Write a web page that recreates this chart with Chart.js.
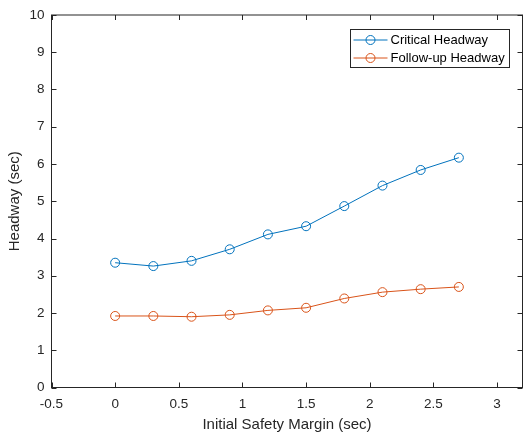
<!DOCTYPE html>
<html>
<head>
<meta charset="utf-8">
<script src="https://cdn.jsdelivr.net/npm/chart.js@4.4.1/dist/chart.umd.min.js"></script>
<style>
  html, body { margin: 0; padding: 0; background: #fff; }
</style>
</head>
<body>
<canvas id="chart" width="524" height="438"></canvas>
<script>
//DATA
const safetyMargin = [0, 0.3, 0.6, 0.9, 1.2, 1.5, 1.8, 2.1, 2.4, 2.7];
const criticalHeadway = [3.35, 3.26, 3.40, 3.71, 4.11, 4.33, 4.87, 5.42, 5.84, 6.17];
const followUpHeadway = [1.92, 1.92, 1.90, 1.95, 2.07, 2.14, 2.39, 2.56, 2.64, 2.70];
const seriesNames = ["Critical Headway", "Follow-up Headway"];
const xTicks = [-0.5, 0, 0.5, 1, 1.5, 2, 2.5, 3];
const yTicks = [0, 1, 2, 3, 4, 5, 6, 7, 8, 9, 10];

const axisColor = "#262626";
const fontFamily = "'Liberation Sans', Arial, sans-serif";

// pair x values with a series
function toPoints(ys) {
  return safetyMargin.map((x, i) => ({ x: x, y: ys[i] }));
}

function seriesStyle(color) {
  return {
    borderColor: color,
    backgroundColor: "rgba(255,255,255,0)",
    borderWidth: 1,
    pointRadius: 4.5,
    pointHoverRadius: 4.5,
    pointBorderWidth: 1,
    pointBorderColor: color,
    pointBackgroundColor: "rgba(255,255,255,0)",
    showLine: true,
    tension: 0,
  };
}

// box round the plot with inward ticks on all four sides
const boxPlugin = {
  id: "box",
  afterDraw(chart) {
    const { ctx, chartArea: a, scales } = chart;
    ctx.save();
    ctx.strokeStyle = axisColor;
    ctx.lineWidth = 1;
    ctx.strokeRect(a.left, a.top, a.right - a.left, a.bottom - a.top);
    ctx.beginPath();
    const len = 5;
    xTicks.forEach((v) => {
      const px = Math.round(scales.x.getPixelForValue(v)) + 0.5;
      ctx.moveTo(px, a.bottom);
      ctx.lineTo(px, a.bottom - len);
      ctx.moveTo(px, a.top);
      ctx.lineTo(px, a.top + len);
    });
    yTicks.forEach((v) => {
      const py = Math.round(scales.y.getPixelForValue(v)) + 0.5;
      ctx.moveTo(a.left, py);
      ctx.lineTo(a.left + len, py);
      ctx.moveTo(a.right, py);
      ctx.lineTo(a.right - len, py);
    });
    ctx.stroke();
    ctx.restore();
  },
};

// legend inside the top right corner
const legendPlugin = {
  id: "insideLegend",
  afterDraw(chart) {
    const { ctx } = chart;
    const x0 = 350.5, y0 = 29.5, w = 159, h = 38;
    ctx.save();
    ctx.fillStyle = "#fff";
    ctx.fillRect(x0, y0, w, h);
    ctx.strokeStyle = axisColor;
    ctx.lineWidth = 1;
    ctx.strokeRect(x0, y0, w, h);
    ctx.font = "13px " + fontFamily;
    ctx.textBaseline = "middle";
    ctx.textAlign = "left";
    chart.data.datasets.forEach((ds, i) => {
      const y = y0 + 10.5 + i * 18;
      ctx.strokeStyle = ds.borderColor;
      ctx.beginPath();
      ctx.moveTo(x0 + 3, y);
      ctx.lineTo(x0 + 37, y);
      ctx.stroke();
      ctx.beginPath();
      ctx.arc(x0 + 20, y, 4.5, 0, Math.PI * 2);
      ctx.stroke();
      ctx.fillStyle = "#000";
      ctx.fillText(ds.label, x0 + 40, y + 0.5);
    });
    ctx.restore();
  },
};

const chartEl = document.getElementById("chart").getContext("2d");

const headwayChart = new Chart(chartEl, {
  type: "scatter",
  data: {
    datasets: [
      { label: seriesNames[0], data: toPoints(criticalHeadway), ...seriesStyle("#0072BD") },
      { label: seriesNames[1], data: toPoints(followUpHeadway), ...seriesStyle("#D95319") },
    ],
  },
  options: {
    responsive: false,
    animation: false,
    devicePixelRatio: 1,
    layout: { autoPadding: false, padding: { left: 0, right: 1.5, top: 15, bottom: 0 } },
    plugins: {
      legend: { display: false },
      tooltip: { enabled: false },
    },
    scales: {
      x: {
        type: "linear",
        min: -0.5,
        max: 3.2,
        grid: { display: false, drawTicks: false },
        border: { display: false },
        afterBuildTicks: (scale) => {
          scale.ticks = xTicks.map((v) => ({ value: v }));
        },
        afterFit: (scale) => {
          scale.height = 50.5;
          scale.paddingLeft = 0;
          scale.paddingRight = 0;
        },
        ticks: {
          color: axisColor,
          padding: 9,
          maxRotation: 0,
          font: { family: fontFamily, size: 13.5 },
          callback: (v) => String(v),
        },
        title: {
          display: true,
          text: "Initial Safety Margin (sec)",
          color: axisColor,
          padding: { top: 0, bottom: 4 },
          font: { family: fontFamily, size: 15 },
        },
      },
      y: {
        type: "linear",
        min: 0,
        max: 10,
        grid: { display: false, drawTicks: false },
        border: { display: false },
        afterBuildTicks: (scale) => {
          scale.ticks = yTicks.map((v) => ({ value: v }));
        },
        afterFit: (scale) => {
          scale.width = 51.5;
          scale.paddingTop = 0;
          scale.paddingBottom = 0;
        },
        ticks: {
          color: axisColor,
          padding: 7,
          font: { family: fontFamily, size: 13.5 },
          callback: (v) => String(v),
        },
        title: {
          display: true,
          text: "Headway (sec)",
          color: axisColor,
          padding: { top: 6, bottom: 0 },
          font: { family: fontFamily, size: 15 },
        },
      },
    },
  },
  plugins: [boxPlugin, legendPlugin],
});
</script>
</body>
</html>
